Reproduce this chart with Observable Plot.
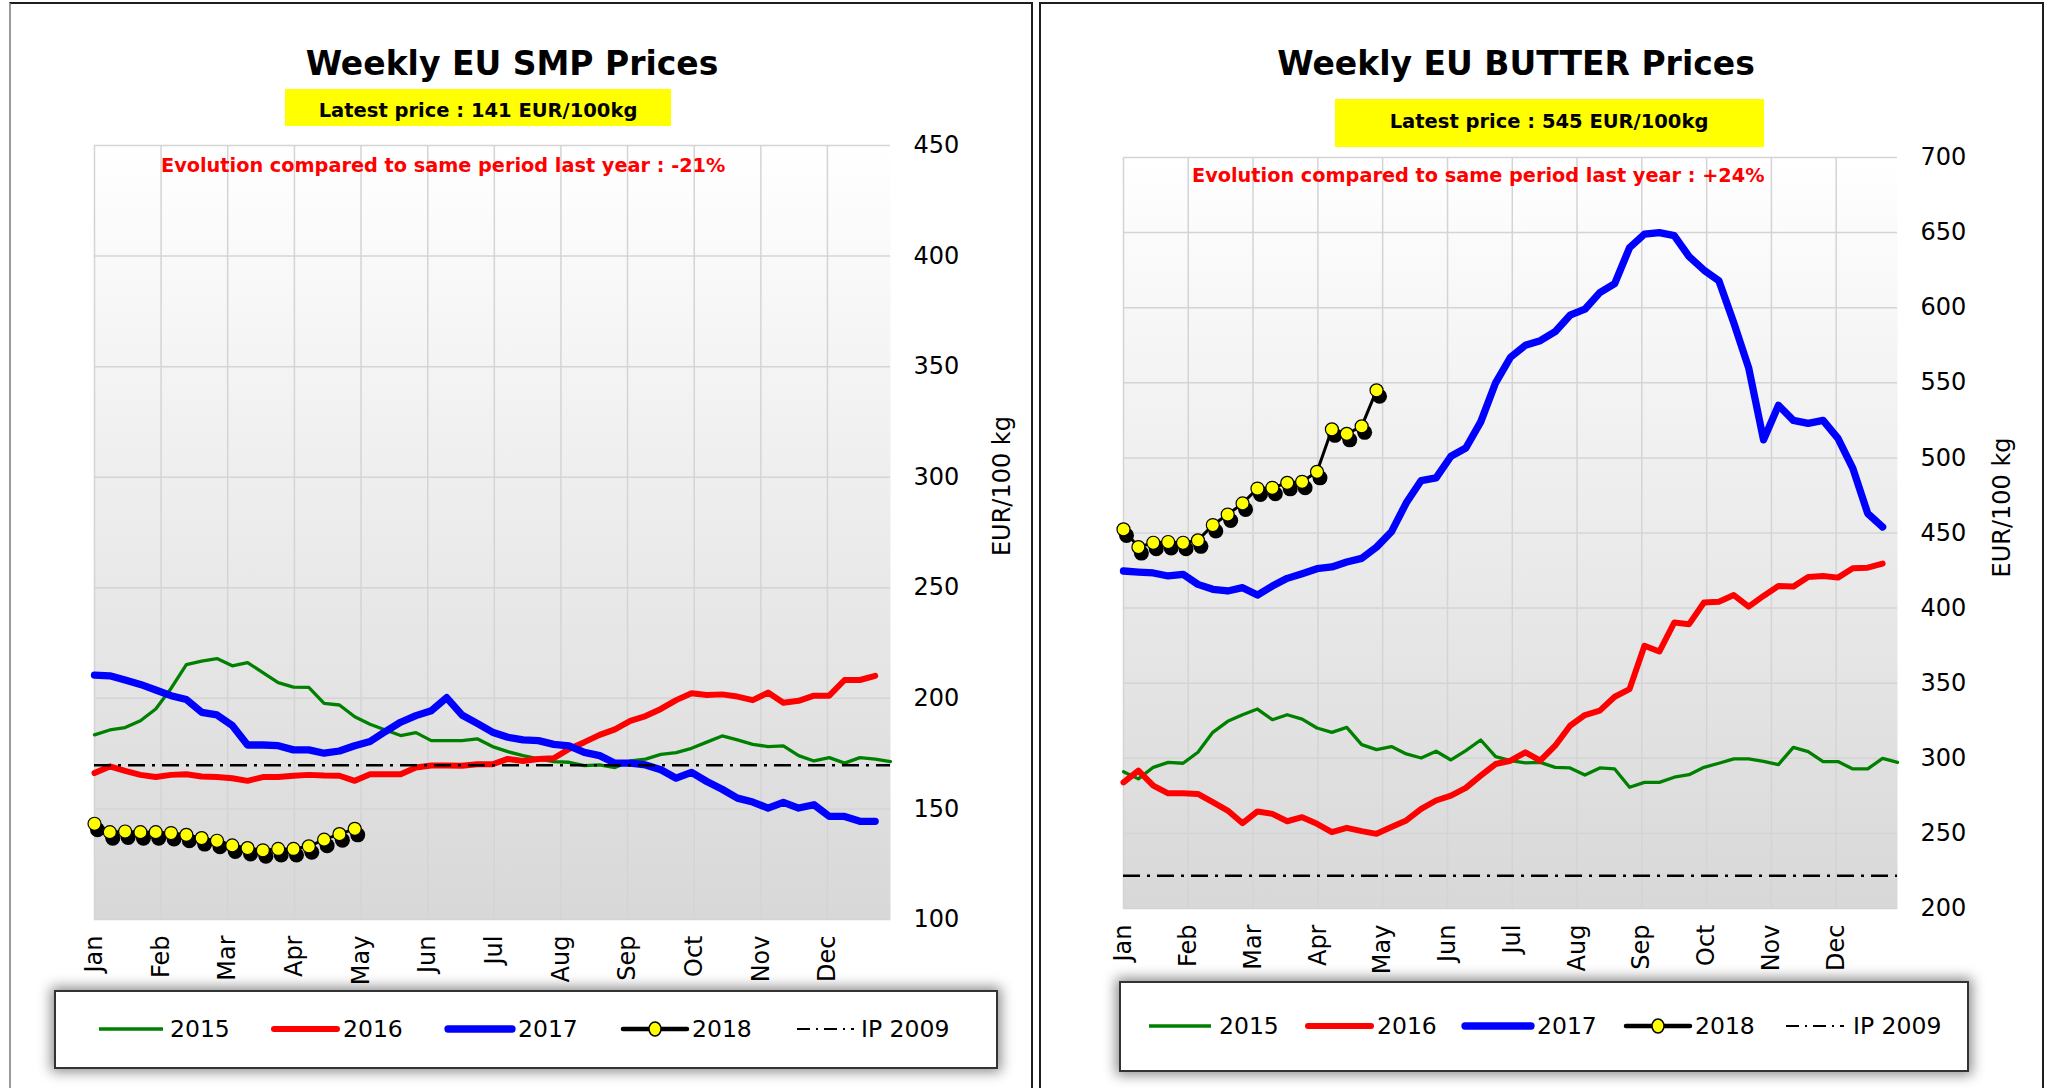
<!DOCTYPE html>
<html>
<head>
<meta charset="utf-8">
<script src="https://cdn.jsdelivr.net/npm/d3@7"></script>
<script src="https://cdn.jsdelivr.net/npm/@observablehq/plot@0.6"></script>
<style>
  html,body{margin:0;padding:0;background:#fff;}
  #page{position:relative;width:2052px;height:1088px;overflow:hidden;background:#fff;font-family:"DejaVu Sans",Verdana,sans-serif;color:#000;}
  .panel{position:absolute;top:2px;height:1120px;box-sizing:border-box;border:2px solid #1e1e1e;}
  .t{position:absolute;line-height:1;white-space:nowrap;}
  .title{font-size:33px;font-weight:bold;transform:translateX(-50%);}
  .box{position:absolute;background:#ffff00;}
  .latest{font-size:19.5px;font-weight:bold;transform:translateX(-50%);}
  .evo{font-size:19.3px;font-weight:bold;color:#ff0000;}
  .legend{position:absolute;box-sizing:border-box;border:2px solid #333;background:#fff;box-shadow:0 0 12px 3px rgba(0,0,0,0.45);}
  .lg{font-size:23.5px;}
  .chart{position:absolute;}
  #swatches{position:absolute;left:0;top:0;pointer-events:none;}
</style>
</head>
<body>
<div id="page">
  <div class="panel" style="left:9px;width:1024px;border-left-color:#9a9a9a"></div>
  <div class="panel" style="left:1039px;width:1005px"></div>

  <div class="t title" style="left:512px;top:47px">Weekly EU SMP Prices</div>
  <div class="t title" style="left:1516px;top:47px">Weekly EU BUTTER Prices</div>

  <div class="box" style="left:285px;top:89px;width:386px;height:37px"></div>
  <div class="box" style="left:1335px;top:99px;width:429px;height:48px"></div>
  <div class="t latest" style="left:478px;top:101px">Latest price : 141 EUR/100kg</div>
  <div class="t latest" style="left:1549px;top:112px">Latest price : 545 EUR/100kg</div>

  <div class="chart" id="smp" style="left:14px;top:130px"></div>
  <div class="chart" id="butter" style="left:1044px;top:140px"></div>

  <div class="t evo" style="left:161px;top:156px">Evolution compared to same period last year : -21%</div>
  <div class="t evo" style="left:1192px;top:166px">Evolution compared to same period last year : +24%</div>

  <div class="legend" style="left:54px;top:990px;width:944px;height:79px"></div>
  <div class="legend" style="left:1119px;top:981px;width:850px;height:91px"></div>

  <svg id="swatches" width="2052" height="1088"></svg>

  <div class="t lg" style="left:170px;top:1018px">2015</div>
  <div class="t lg" style="left:343px;top:1018px">2016</div>
  <div class="t lg" style="left:518px;top:1018px">2017</div>
  <div class="t lg" style="left:692px;top:1018px">2018</div>
  <div class="t lg" style="left:861px;top:1018px">IP 2009</div>

  <div class="t lg" style="left:1219px;top:1015px">2015</div>
  <div class="t lg" style="left:1377px;top:1015px">2016</div>
  <div class="t lg" style="left:1537px;top:1015px">2017</div>
  <div class="t lg" style="left:1695px;top:1015px">2018</div>
  <div class="t lg" style="left:1853px;top:1015px">IP 2009</div>
</div>
<script>
// ---------- data ----------
const monthLabels = ["Jan","Feb","Mar","Apr","May","Jun","Jul","Aug","Sep","Oct","Nov","Dec"];
// week positions of the month gridlines / labels
const monthTicks = [1, 5.35, 9.7, 14.06, 18.41, 22.77, 27.12, 31.47, 35.82, 40.18, 44.53, 48.88];
const weekNumbers = d3.range(1, 54);

const smpTicks = [100, 150, 200, 250, 300, 350, 400, 450];
const butterTicks = [200, 250, 300, 350, 400, 450, 500, 550, 600, 650, 700];

const smpIP = 169.8;
const butterIP = 221.75;

const smp2015 = [183.5,185.7,186.8,189.9,195.2,204.5,215.3,216.8,218.0,214.7,
  216.2,211.6,207.1,205.1,205.0,197.7,197.0,191.7,188.3,185.7,
  183.2,184.5,180.9,180.9,180.9,181.7,178.2,175.9,174.1,172.6,
  171.4,171.1,169.6,169.9,168.7,171.7,172.5,174.7,175.5,177.4,
  180.2,183.0,181.2,179.2,178.2,178.5,174.1,171.7,173.2,170.7,
  173.2,172.5,171.4];
const smp2016 = [166.2,169.2,167.2,165.4,164.4,165.4,165.7,164.7,164.4,163.9,
  162.7,164.4,164.4,165.0,165.4,165.1,165.0,162.7,165.7,165.7,
  165.7,168.7,169.6,169.6,169.5,170.2,170.2,172.6,171.7,172.6,
  172.9,177.1,180.2,183.5,186.0,189.8,192.0,195.2,199.2,202.3,
  201.5,201.8,200.8,199.2,202.6,198.0,198.9,201.2,201.2,208.3,
  208.3,210.2];
const smp2017 = [210.5,210.2,208.3,206.3,203.8,201.2,199.5,193.7,192.5,187.7,
  178.9,178.9,178.6,176.7,176.7,175.2,176.2,178.6,180.5,185.0,
  189.2,192.2,194.4,200.3,192.5,188.7,184.7,182.4,181.2,180.9,
  179.2,178.5,175.6,174.1,170.7,170.7,169.9,167.7,163.9,166.5,
  162.4,158.9,154.9,153.1,150.4,153.0,150.4,151.9,146.6,146.6,
  144.4,144.4];
const smp2018 = [143.3,139.5,139.8,139.5,139.5,139.1,138.3,136.8,135.6,133.5,
  132.3,131.3,131.9,131.9,133.1,136.1,138.6,141.0];

const butter2015 = [291.1,286.3,294.0,297.3,296.7,304.0,317.3,324.6,329.0,332.8,
  325.7,329.0,326.1,320.2,317.3,320.6,309.1,305.8,307.8,302.9,
  300.2,304.7,298.9,305.1,312.2,301.1,298.4,296.9,297.3,294.0,
  293.6,288.9,293.6,292.9,280.7,284.0,284.0,287.4,289.1,294.0,
  296.7,299.6,299.6,298.0,295.8,307.3,304.4,297.8,297.8,292.9,
  292.9,300.0,297.3];
const butter2016 = [284.0,291.8,281.8,276.7,276.7,276.3,270.8,265.2,256.8,264.6,
  263.0,258.1,260.8,256.4,250.8,253.7,251.5,249.7,254.2,258.6,
  266.3,271.9,275.2,280.3,288.5,296.2,298.4,304.0,298.4,308.4,
  321.7,328.8,331.7,341.0,346.1,374.9,371.1,390.4,389.3,403.7,
  404.3,408.7,401.0,408.1,414.7,414.3,420.7,421.4,420.3,426.5,
  426.9,429.6];
const butter2017 = [424.7,424.0,423.4,421.4,422.5,415.8,412.5,411.4,413.6,408.7,
  414.7,419.8,422.9,426.2,427.4,430.7,433.1,440.6,450.8,470.1,
  484.9,486.7,501.1,506.6,524,550,567,575,578,584,
  595,599,610,616,640,649,650,648,634,625,
  618,590,560,512,535,525,523,525,513,493,
  463,454];
const butter2018 = [452.4,440.6,443.5,444.0,443.5,445.1,455.3,462.3,469.7,479.6,
  480.1,483.4,484.1,490.7,519,516,521,545];

// ---------- styles ----------
const colors = {y2015: "#008000", y2016: "#ff0000", y2017: "#0000ff", y2018: "#000000", marker: "#ffff00"};

function defsMark(id) {
  return () => {
    const defs = d3.create("svg:defs");
    const g = defs.append("linearGradient").attr("id", id)
      .attr("x1", 0).attr("y1", 0).attr("x2", 0).attr("y2", 1);
    g.append("stop").attr("offset", "0%").attr("stop-color", "#ffffff");
    g.append("stop").attr("offset", "100%").attr("stop-color", "#d8d8d8");
    return defs.node();
  };
}

function chart(cfg) {
  const rows = arr => arr.map((v, i) => ({week: weekNumbers[i], value: v}));
  const d15 = rows(cfg.s2015), d16 = rows(cfg.s2016), d17 = rows(cfg.s2017), d18 = rows(cfg.s2018);
  const gid = cfg.id + "-bg";
  const xy = {x: "week", y: "value"};
  return Plot.plot({
    width: cfg.width, height: cfg.height,
    marginLeft: cfg.ml, marginRight: cfg.mr, marginTop: cfg.mt, marginBottom: cfg.mb,
    style: {fontFamily: '"DejaVu Sans", Verdana, sans-serif', fontSize: "24px", background: "transparent", overflow: "visible", color: "#000"},
    x: {domain: [1, 53]},
    y: {domain: cfg.yDomain},
    marks: [
      defsMark(gid),
      Plot.frame({fill: `url(#${gid})`, stroke: "none"}),
      Plot.gridY(cfg.yTicks, {stroke: "#d4d4d4", strokeOpacity: 1, strokeWidth: 1.5}),
      Plot.gridX(monthTicks, {stroke: "#d4d4d4", strokeOpacity: 1, strokeWidth: 1.5}),
      Plot.line(d15, {...xy, stroke: colors.y2015, strokeWidth: 3.3}),
      Plot.line(d16, {...xy, stroke: colors.y2016, strokeWidth: 6}),
      Plot.line(d17, {...xy, stroke: colors.y2017, strokeWidth: 7.3}),
      Plot.ruleY([cfg.ip], {stroke: "#000", strokeWidth: 2.5, strokeDasharray: "17,7,3,7"}),
      Plot.dot(d18, {...xy, r: 7.5, fill: "#000", dx: 3, dy: 6}),
      Plot.line(d18, {...xy, stroke: colors.y2018, strokeWidth: 3}),
      Plot.dot(d18, {...xy, r: 6.5, fill: colors.marker, stroke: "#000", strokeWidth: 1.2}),
      Plot.axisX(monthTicks, {tickFormat: d => monthLabels[monthTicks.indexOf(d)], tickRotate: -90, tickSize: 0, tickPadding: 16, fontSize: 24, label: null}),
      Plot.axisY(cfg.yTicks, {anchor: "right", tickSize: 0, tickPadding: 23, fontSize: 24, label: null}),
      Plot.text(["EUR/100 kg"], {text: d => d, y: () => cfg.labelY, frameAnchor: "right", textAnchor: "middle", lineAnchor: "middle", dx: cfg.labelDx, rotate: -90, fontSize: 24})
    ]
  });
}

document.getElementById("smp").append(chart({
  id: "smp", s2015: smp2015, s2016: smp2016, s2017: smp2017, s2018: smp2018,
  ip: smpIP, yDomain: [100, 450], yTicks: smpTicks,
  width: 1016, height: 860, ml: 80, mr: 140, mt: 15, mb: 71, labelDx: 112, labelY: 296
}));
document.getElementById("butter").append(chart({
  id: "butter", s2015: butter2015, s2016: butter2016, s2017: butter2017, s2018: butter2018,
  ip: butterIP, yDomain: [200, 700], yTicks: butterTicks,
  width: 996, height: 840, ml: 79, mr: 143, mt: 17, mb: 72, labelDx: 105, labelY: 467
}));

// ---------- legend swatches ----------
const sw = d3.select("#swatches");
function swatches(y, pos) {
  sw.append("line").attr("x1", pos[0][0]).attr("x2", pos[0][1]).attr("y1", y).attr("y2", y)
    .attr("stroke", colors.y2015).attr("stroke-width", 3.5);
  sw.append("line").attr("x1", pos[1][0]).attr("x2", pos[1][1]).attr("y1", y).attr("y2", y)
    .attr("stroke", colors.y2016).attr("stroke-width", 6).attr("stroke-linecap", "round");
  sw.append("line").attr("x1", pos[2][0]).attr("x2", pos[2][1]).attr("y1", y).attr("y2", y)
    .attr("stroke", colors.y2017).attr("stroke-width", 7.3).attr("stroke-linecap", "round");
  sw.append("line").attr("x1", pos[3][0]).attr("x2", pos[3][1]).attr("y1", y).attr("y2", y)
    .attr("stroke", colors.y2018).attr("stroke-width", 4.5).attr("stroke-linecap", "round");
  sw.append("ellipse").attr("cx", (pos[3][0] + pos[3][1]) / 2).attr("cy", y).attr("rx", 6).attr("ry", 7)
    .attr("fill", colors.marker).attr("stroke", "#000").attr("stroke-width", 1.5);
  sw.append("line").attr("x1", pos[4][0]).attr("x2", pos[4][1]).attr("y1", y).attr("y2", y)
    .attr("stroke", "#000").attr("stroke-width", 2).attr("stroke-dasharray", "13,6,2,6");
}
swatches(1029, [[99,163],[274,337],[448,512],[623,687],[797,854]]);
swatches(1026, [[1149,1211],[1308,1371],[1465,1531],[1626,1690],[1786,1844]]);
</script>
</body>
</html>
